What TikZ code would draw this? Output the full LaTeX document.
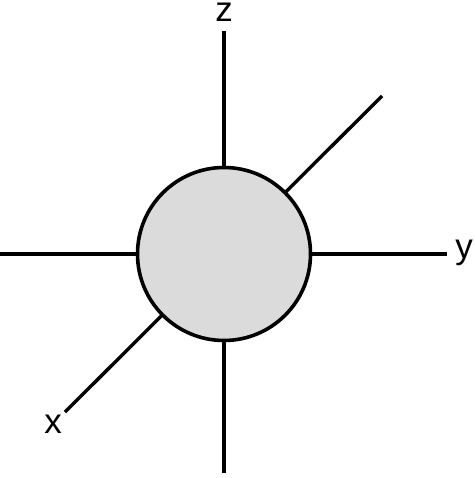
\documentclass[tikz,border=0pt]{standalone}
\usepackage{fontspec}
\setmainfont{Liberation Sans}
\begin{document}
\begin{tikzpicture}[x=1pt,y=-1pt,
  axis/.style={line width=3.4pt,black},
  ball/.style={circle,draw=black,line width=3.6pt,fill=black!14,minimum size=173pt,inner sep=0pt},
  lab/.style={anchor=base,inner sep=0pt,font=\fontsize{35}{40}\selectfont}]
\useasboundingbox (0,0) rectangle (474,478);
\coordinate (ztop) at (224,31);
\coordinate (zbot) at (224,473);
\coordinate (yleft) at (0,254);
\coordinate (yright) at (447,254);
\coordinate (xur) at (382,96);
\coordinate (xll) at (65,412);
\draw[axis] (ztop) -- (zbot);
\draw[axis] (yleft) -- (yright);
\draw[axis] (xur) -- (xll);
\node[ball] (c) at (224,254) {};
\node[lab] (zl) at (224,21.5) {z};
\node[lab] (yl) at (464,258) {y};
\node[lab] (xl) at (53,433) {x};
\end{tikzpicture}
\end{document}
